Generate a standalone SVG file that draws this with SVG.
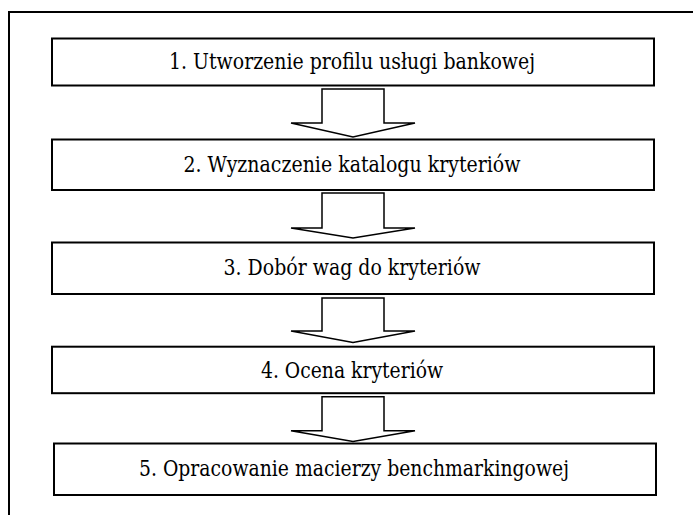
<svg xmlns="http://www.w3.org/2000/svg" width="693" height="515" viewBox="0 0 693 515">
<style>
.box{fill:#fff;stroke:#000;stroke-width:2}
.lbl{font-family:'DejaVu Serif',serif;font-size:21.5px;fill:#000;text-anchor:middle}
.arr{fill:#fff;stroke:#000;stroke-width:1.5;stroke-linejoin:miter}
</style>
<rect x="0" y="0" width="693" height="515" fill="#fff"/>
<path d="M9,520 V12 H700" fill="none" stroke="#000" stroke-width="2"/>
<g id="connectors">
<polygon class="arr" points="322,89 384,89 384,123 415,123 353,137 291,123 322,123"/>
<polygon class="arr" points="322,193 384,193 384,228 415,228 353,238 291,228 322,228"/>
<polygon class="arr" points="322,298 384,298 384,331 415,331 353,342.5 291,331 322,331"/>
<polygon class="arr" points="322,396.7 384,396.7 384,430.7 415,430.7 353,441.5 291,430.7 322,430.7"/>
</g>
<g id="node1"><rect class="box" x="52" y="38.5" width="602" height="47"/><text class="lbl" x="352" y="68.5" textLength="366" lengthAdjust="spacingAndGlyphs">1. Utworzenie profilu usługi bankowej</text></g>
<g id="node2"><rect class="box" x="52" y="139.5" width="602" height="50.5"/><text class="lbl" x="352" y="171.5" textLength="337" lengthAdjust="spacingAndGlyphs">2. Wyznaczenie katalogu kryteriów</text></g>
<g id="node3"><rect class="box" x="52" y="242.5" width="602" height="51.5"/><text class="lbl" x="352" y="274.5" textLength="257" lengthAdjust="spacingAndGlyphs">3. Dobór wag do kryteriów</text></g>
<g id="node4"><rect class="box" x="52" y="346.7" width="602" height="46.5"/><text class="lbl" x="352" y="377.5" textLength="182" lengthAdjust="spacingAndGlyphs">4. Ocena kryteriów</text></g>
<g id="node5"><rect class="box" x="54" y="443.5" width="602" height="51.5"/><text class="lbl" x="354" y="476" textLength="430" lengthAdjust="spacingAndGlyphs">5. Opracowanie macierzy benchmarkingowej</text></g>
</svg>
